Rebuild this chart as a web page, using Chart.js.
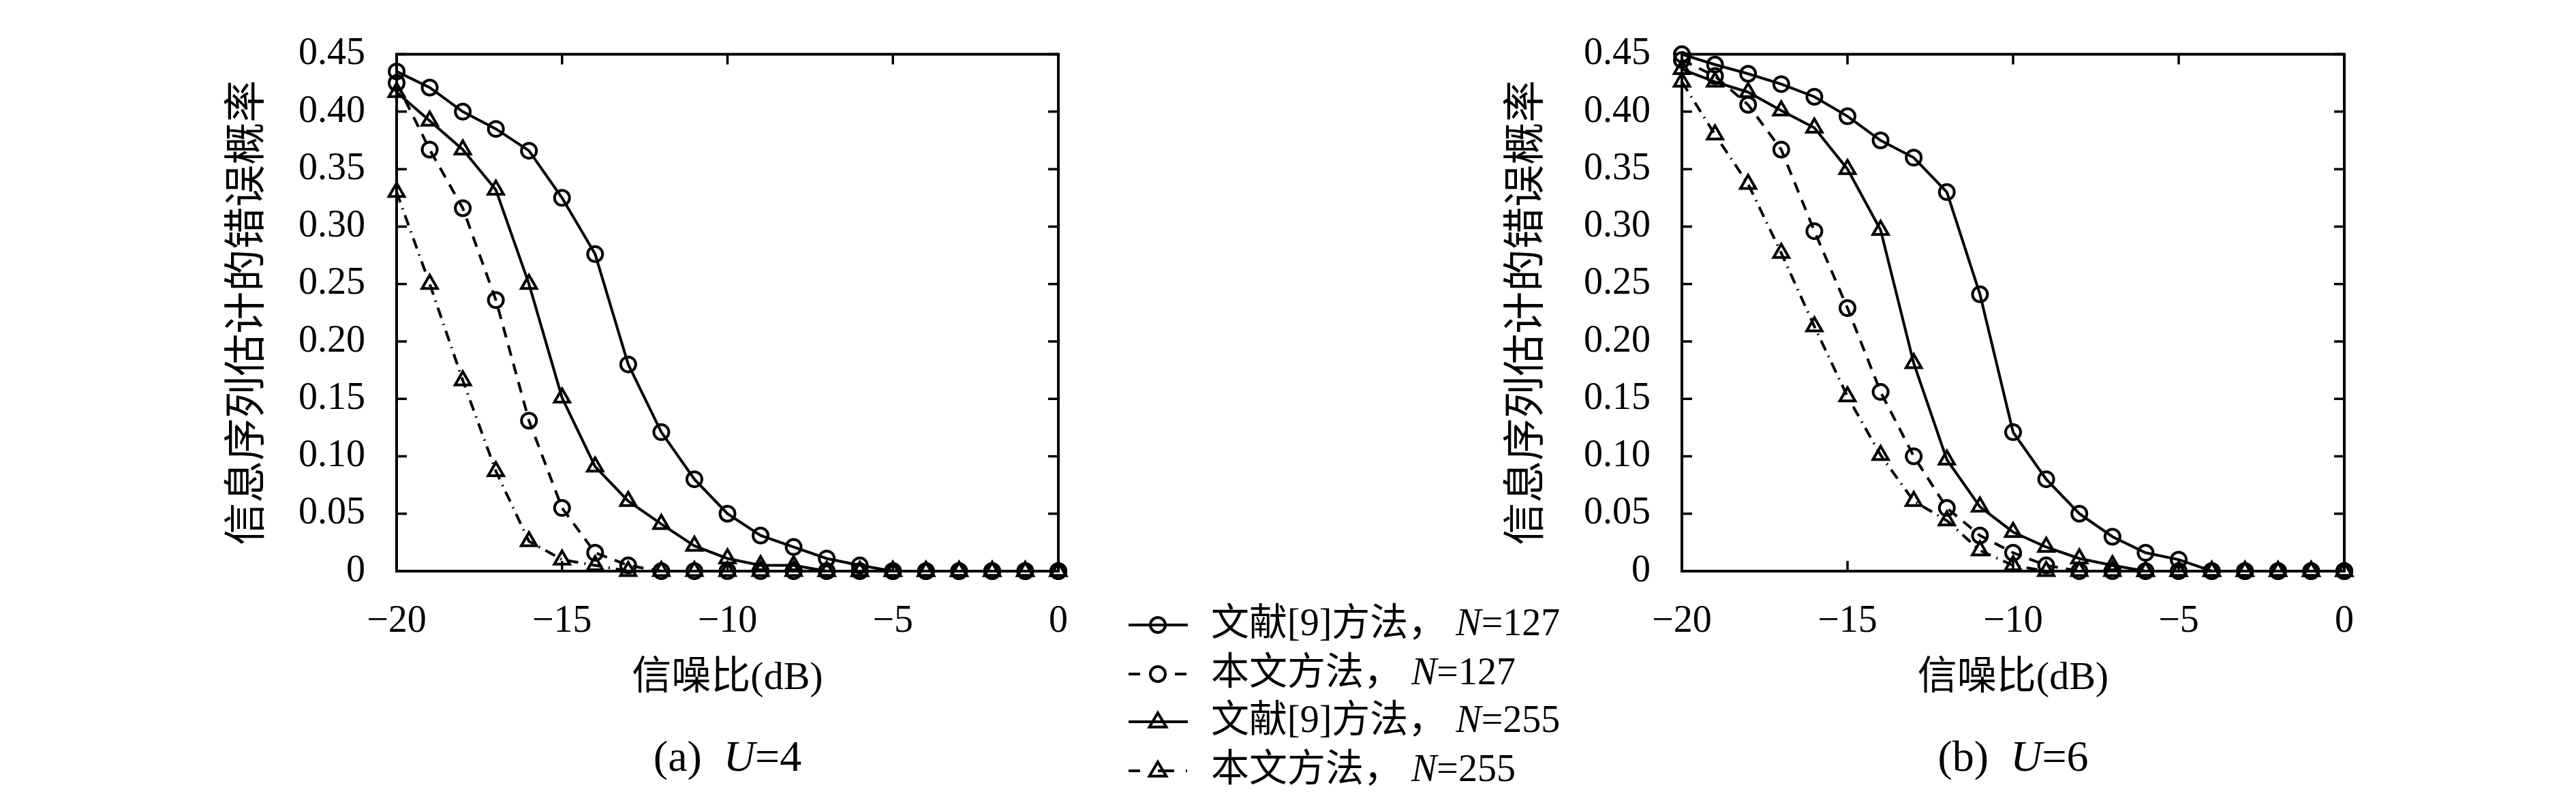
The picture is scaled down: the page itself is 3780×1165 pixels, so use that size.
<!DOCTYPE html>
<html>
<head>
<meta charset="utf-8">
<script src="https://cdn.jsdelivr.net/npm/chart.js@4.4.1/dist/chart.umd.min.js"></script>
<style>
  html, body { margin: 0; padding: 0; background: #fff; }
  #wrap { position: relative; width: 3780px; height: 1165px; background: #fff; }
  #wrap canvas { position: absolute; top: 0; }
</style>
</head>
<body>
<div id="wrap">
  <canvas id="chartU4" width="2330" height="1165" style="left:0"></canvas>
  <canvas id="chartU6" width="1680" height="1165" style="left:2100px"></canvas>
</div>
<script>
/* global Chart */
'use strict';

// signal to noise ratio (dB)
const snr = [-20, -19, -18, -17, -16, -15, -14, -13, -12, -11, -10, -9, -8, -7, -6, -5, -4, -3, -2, -1, 0];

const xTicks = [-20, -15, -10, -5, 0];
const yTicks = [0, 0.05, 0.10, 0.15, 0.20, 0.25, 0.30, 0.35, 0.40, 0.45];

const seriesNames = ['文献[9]方法，N=127', '本文方法，N=127', '文献[9]方法，N=255', '本文方法，N=255'];

// (a) U=4
const u4Ref127 = [0.435, 0.421, 0.400, 0.385, 0.366, 0.325, 0.276, 0.180, 0.121, 0.080, 0.050, 0.031, 0.021, 0.011, 0.005, 0, 0, 0, 0, 0, 0];
const u4Our127 = [0.425, 0.367, 0.316, 0.236, 0.131, 0.055, 0.016, 0.005, 0, 0, 0, 0, 0, 0, 0, 0, 0, 0, 0, 0, 0];
const u4Ref255 = [0.417, 0.392, 0.367, 0.332, 0.250, 0.151, 0.091, 0.061, 0.041, 0.022, 0.011, 0.005, 0.005, 0, 0, 0, 0, 0, 0, 0, 0];
const u4Our255 = [0.330, 0.250, 0.166, 0.087, 0.026, 0.010, 0.005, 0, 0, 0, 0, 0, 0, 0, 0, 0, 0, 0, 0, 0, 0];

// (b) U=6
const u6Ref127 = [0.450, 0.441, 0.433, 0.424, 0.413, 0.396, 0.375, 0.360, 0.330, 0.241, 0.121, 0.080, 0.050, 0.030, 0.016, 0.010, 0, 0, 0, 0, 0];
const u6Our127 = [0.445, 0.431, 0.406, 0.367, 0.296, 0.229, 0.156, 0.100, 0.055, 0.031, 0.016, 0.005, 0, 0, 0, 0, 0, 0, 0, 0, 0];
const u6Ref255 = [0.437, 0.426, 0.417, 0.401, 0.386, 0.350, 0.297, 0.181, 0.097, 0.056, 0.034, 0.021, 0.011, 0.005, 0, 0, 0, 0, 0, 0, 0];
const u6Our255 = [0.426, 0.380, 0.337, 0.277, 0.213, 0.152, 0.101, 0.061, 0.044, 0.018, 0.005, 0, 0, 0, 0, 0, 0, 0, 0, 0, 0];

const SERIF = '"Liberation Serif", "Times New Roman", serif';
const MIXED = '"Liberation Serif", "Noto Sans CJK SC", serif';

// line styles for the 4 curves
const styles = [
  { dash: [], point: 'circle', r: 11 },
  { dash: [16, 12], point: 'circle', r: 11 },
  { dash: [], point: 'triangle', r: 13 },
  { dash: [16, 9, 2, 9], point: 'triangle', r: 13 },
];
const LINE_W = 4;

// draw text made of upright / italic pieces
function drawRich(ctx, parts, x, y, size, align) {
  let total = 0;
  const widths = parts.map(function (p) {
    ctx.font = (p.italic ? 'italic ' : '') + size + 'px ' + (p.italic ? SERIF : MIXED);
    const w = ctx.measureText(p.t).width;
    total += w;
    return w;
  });
  let cx = align === 'center' ? x - total / 2 : x;
  ctx.textAlign = 'left';
  ctx.textBaseline = 'middle';
  parts.forEach(function (p, i) {
    ctx.font = (p.italic ? 'italic ' : '') + size + 'px ' + (p.italic ? SERIF : MIXED);
    ctx.fillText(p.t, cx, y);
    cx += widths[i];
  });
}

// split "xxx，N=127" into upright / italic parts
function labelParts(text) {
  const i = text.lastIndexOf('N=');
  return [
    { t: text.slice(0, i) + ' ' },
    { t: 'N', italic: true },
    { t: text.slice(i + 1) },
  ];
}

function drawMarker(ctx, style, x, y) {
  ctx.beginPath();
  if (style.point === 'circle') {
    ctx.arc(x, y, style.r, 0, Math.PI * 2);
  } else {
    const r = style.r;
    ctx.moveTo(x, y - r);
    ctx.lineTo(x + r * 0.95, y + r * 0.6);
    ctx.lineTo(x - r * 0.95, y + r * 0.6);
    ctx.closePath();
  }
  ctx.stroke();
}

// box around the plot + inward ticks on all four sides
const framePlugin = {
  id: 'frame',
  beforeDatasetsDraw(chart) {
    const ctx = chart.ctx;
    const a = chart.chartArea;
    const x = chart.scales.x;
    const y = chart.scales.y;
    const len = 15;
    ctx.save();
    ctx.strokeStyle = '#000';
    ctx.lineWidth = 3.5;
    ctx.beginPath();
    xTicks.forEach(function (v) {
      const px = x.getPixelForValue(v);
      ctx.moveTo(px, a.bottom); ctx.lineTo(px, a.bottom - len);
      ctx.moveTo(px, a.top); ctx.lineTo(px, a.top + len);
    });
    yTicks.forEach(function (v) {
      const py = y.getPixelForValue(v);
      ctx.moveTo(a.left, py); ctx.lineTo(a.left + len, py);
      ctx.moveTo(a.right, py); ctx.lineTo(a.right - len, py);
    });
    ctx.stroke();
    ctx.lineWidth = 4;
    ctx.strokeRect(a.left, a.top, a.right - a.left, a.bottom - a.top);
    ctx.restore();
  }
};

// "(a) U=4" under the axis title
const captionPlugin = {
  id: 'caption',
  afterDraw(chart, args, opts) {
    if (!opts || !opts.tag) return;
    const ctx = chart.ctx;
    const a = chart.chartArea;
    ctx.save();
    ctx.fillStyle = '#000';
    drawRich(ctx, [
      { t: opts.tag + '  ' },
      { t: 'U', italic: true },
      { t: '=' + opts.value },
    ], (a.left + a.right) / 2, opts.y, 64, 'center');
    ctx.restore();
  }
};

// shared legend placed between the two panels
const legendPlugin = {
  id: 'sideLegend',
  afterDraw(chart, args, opts) {
    if (!opts || !opts.show) return;
    const ctx = chart.ctx;
    const rows = [917, 989, 1059, 1131];
    const x0 = 1656, x1 = 1743, xm = 1699, xt = 1777;
    ctx.save();
    ctx.strokeStyle = '#000';
    ctx.fillStyle = '#000';
    chart.data.datasets.forEach(function (ds, i) {
      const st = styles[i];
      const y = rows[i];
      ctx.lineWidth = LINE_W;
      ctx.setLineDash([]);
      ctx.beginPath();
      if (st.dash.length === 0) {
        ctx.moveTo(x0, y); ctx.lineTo(x1, y);
      } else if (st.dash.length === 2) {
        ctx.moveTo(x0, y); ctx.lineTo(x0 + 17, y);
        ctx.moveTo(x1 - 19, y); ctx.lineTo(x1 - 2, y);
      } else {
        ctx.moveTo(x0, y); ctx.lineTo(x0 + 17, y);
        ctx.moveTo(xm, y); ctx.lineTo(xm + 24, y);
        ctx.moveTo(x1 - 3, y); ctx.lineTo(x1 - 1, y);
      }
      ctx.stroke();
      drawMarker(ctx, st, xm, y);
      drawRich(ctx, labelParts(ds.label), xt, y, 56, 'left');
    });
    ctx.restore();
  }
};

function buildDatasets(values) {
  return values.map(function (vals, i) {
    const st = styles[i];
    return {
      label: seriesNames[i],
      data: snr.map(function (s, k) { return { x: s, y: vals[k] }; }),
      borderColor: '#000',
      backgroundColor: 'rgba(0,0,0,0)',
      borderWidth: LINE_W,
      borderDash: st.dash,
      pointStyle: st.point,
      pointRadius: st.r,
      pointBorderWidth: LINE_W,
      pointBackgroundColor: 'rgba(0,0,0,0)',
      pointBorderColor: '#000',
      tension: 0,
      clip: false,
    };
  });
}

function makeChart(id, values, cfg) {
  const ctx = document.getElementById(id).getContext('2d');
  return new Chart(ctx, {
    type: 'line',
    data: { datasets: buildDatasets(values) },
    options: {
      responsive: false,
      animation: false,
      events: [],
      layout: { padding: cfg.padding },
      plugins: {
        legend: { display: false },
        tooltip: { enabled: false },
        caption: cfg.caption,
        sideLegend: { show: cfg.legend },
      },
      scales: {
        x: {
          type: 'linear',
          min: -20,
          max: 0,
          grid: { display: false, drawTicks: false },
          border: { display: false },
          afterBuildTicks: function (axis) { axis.ticks = xTicks.map(function (v) { return { value: v }; }); },
          afterFit: function (axis) { axis.height = 200; },
          ticks: {
            color: '#000',
            padding: 41,
            maxRotation: 0,
            font: { family: SERIF, size: 56 },
            callback: function (v) { return v < 0 ? '\u2212' + Math.abs(v) : '0'; },
          },
          title: {
            display: true,
            text: '信噪比(dB)',
            color: '#000',
            font: { family: MIXED, size: 58 },
            padding: { top: 0, bottom: 7 },
          },
        },
        y: {
          min: 0,
          max: 0.45,
          grid: { display: false, drawTicks: false },
          border: { display: false },
          afterBuildTicks: function (axis) { axis.ticks = yTicks.map(function (v) { return { value: v }; }); },
          afterFit: function (axis) { axis.width = cfg.yWidth; },
          ticks: {
            color: '#000',
            padding: 46,
            font: { family: SERIF, size: 56 },
            callback: function (v) { return v === 0 ? '0' : v.toFixed(2); },
          },
          title: {
            display: true,
            text: '信息序列估计的错误概率',
            color: '#000',
            font: { family: MIXED, size: 62 },
            padding: { top: cfg.yTitlePad, bottom: 0 },
          },
        },
      },
    },
    plugins: [framePlugin, captionPlugin, legendPlugin],
  });
}

const chartU4 = makeChart('chartU4', [u4Ref127, u4Our127, u4Ref255, u4Our255], {
  padding: { left: 300, right: 777, top: 36, bottom: 127 },
  yWidth: 282,
  yTitlePad: 29,
  caption: { tag: '(a)', value: '4', y: 1114 },
  legend: true,
});

const chartU6 = makeChart('chartU6', [u6Ref127, u6Our127, u6Ref255, u6Our255], {
  padding: { left: 80, right: 340, top: 36, bottom: 127 },
  yWidth: 288,
  yTitlePad: 26,
  caption: { tag: '(b)', value: '6', y: 1114 },
  legend: false,
});

console.log(chartU4, chartU6);
</script>
</body>
</html>
